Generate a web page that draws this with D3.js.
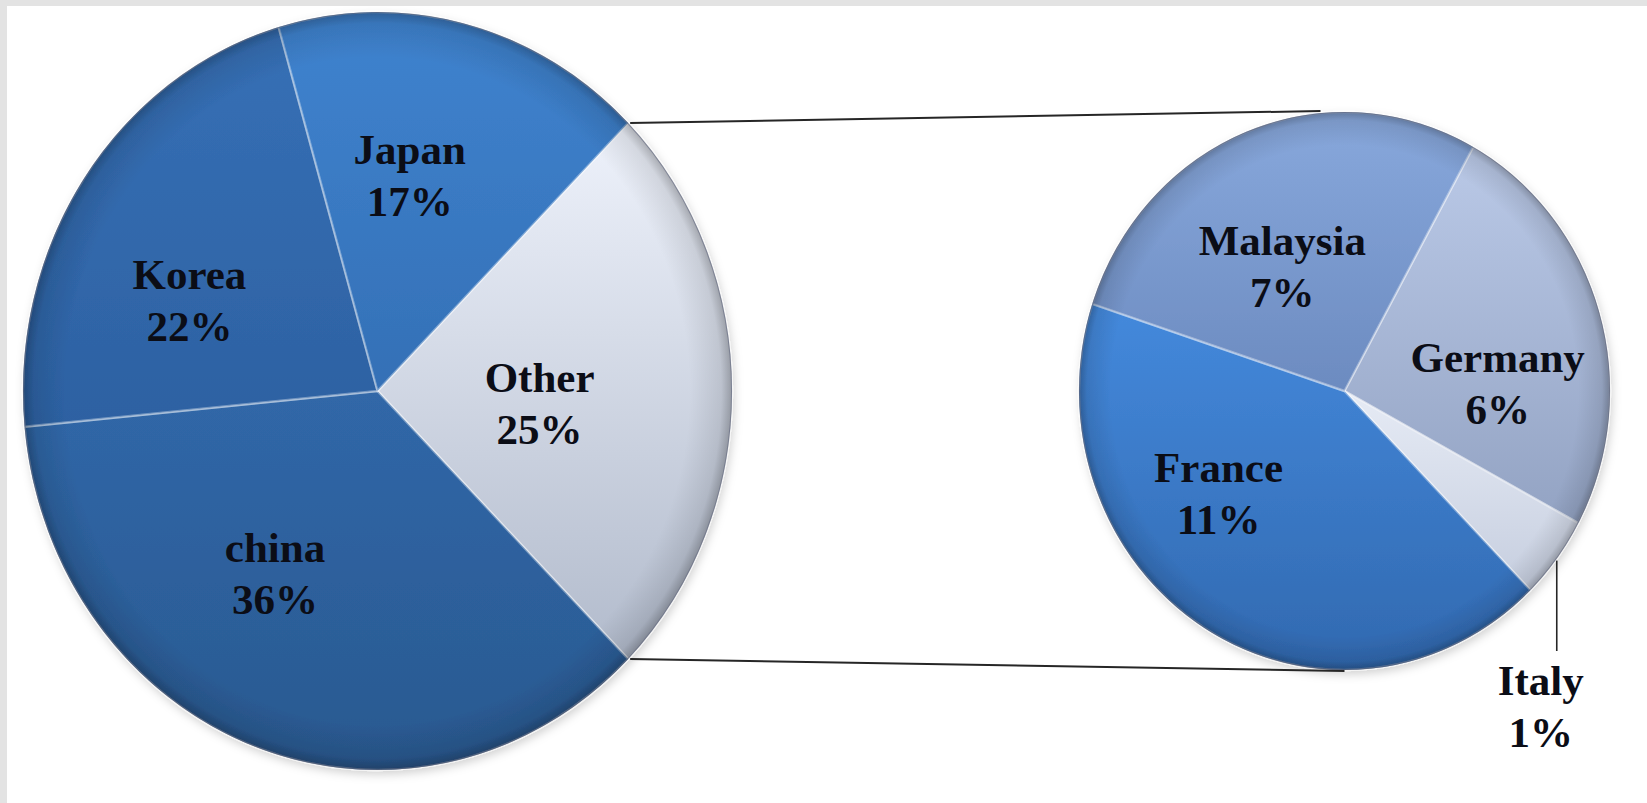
<!DOCTYPE html>
<html>
<head>
<meta charset="utf-8">
<script src="https://cdn.jsdelivr.net/npm/d3@7/dist/d3.min.js"></script>
<style>
  html, body { margin: 0; padding: 0; background: #ffffff; }
  svg { display: block; }
</style>
</head>
<body>
<script>
// ---------- data ----------
const mainCategories = ["Other", "china", "Korea", "Japan"];
const subCategories  = ["Germany", "Italy", "France", "Malaysia"];
const subValues      = [6.2, 1.2, 10.6, 7.0];          // % of total, shown in the second pie
const mainValues     = [d3.sum(subValues), 36, 22, 17]; // "Other" = sum of the second pie

// ---------- styles / layout ----------
const W = 1647, H = 803;
const mainColors = {
  Other:  ["#eef2fb", "#b2bbcc"],
  china:  ["#3067a8", "#2a5990"],
  Korea:  ["#3670b6", "#2d61a2"],
  Japan:  ["#3f83cf", "#3470b6"]
};
const subColors = {
  Germany:  ["#bac9e7", "#93a3c3"],
  Italy:    ["#e6ebf5", "#c6cedf"],
  France:   ["#4489dc", "#3169b0"],
  Malaysia: ["#88a8dc", "#6c8bc0"]
};
const leftPie  = { cx: 377.5, cy: 391, rx: 354.5, ry: 379, start: 45 };
const rightPie = { cx: 1344.5, cy: 391, rx: 265.5, ry: 279, start: 29 };
const labelRatio = 0.57;
const labelNudge = {
  Other: [-40, 12], china: [-34, -21], Korea: [-21, 31], Japan: [-18, -6],
  Germany: [8, 37], France: [-46, -33], Malaysia: [-7, 24]
};

const svg = d3.select("body").append("svg").attr("width", W).attr("height", H);
const defs = svg.append("defs");

// frame: gray bands on top and left
svg.append("rect").attr("x", 0).attr("y", 0).attr("width", W).attr("height", H).attr("fill", "#ffffff");
svg.append("rect").attr("x", 0).attr("y", 0).attr("width", W).attr("height", 6).attr("fill", "#e3e3e3");
svg.append("rect").attr("x", 0).attr("y", 0).attr("width", 7).attr("height", H).attr("fill", "#e3e3e3");

// gradients
function linGrad(id, c) {
  const g = defs.append("linearGradient").attr("id", id)
    .attr("x1", 0).attr("y1", 0).attr("x2", 0).attr("y2", 1);
  g.append("stop").attr("offset", "0%").attr("stop-color", c[0]);
  g.append("stop").attr("offset", "100%").attr("stop-color", c[1]);
}
Object.entries(mainColors).forEach(([k, c]) => linGrad("g-" + k, c));
Object.entries(subColors).forEach(([k, c]) => linGrad("g-" + k, c));

const edge = defs.append("radialGradient").attr("id", "edgeShade");
edge.append("stop").attr("offset", "0%").attr("stop-color", "#000").attr("stop-opacity", 0);
edge.append("stop").attr("offset", "88%").attr("stop-color", "#000").attr("stop-opacity", 0);
edge.append("stop").attr("offset", "97%").attr("stop-color", "#000").attr("stop-opacity", 0.10);
edge.append("stop").attr("offset", "100%").attr("stop-color", "#000").attr("stop-opacity", 0.28);

const shadow = defs.append("filter").attr("id", "shadow")
  .attr("x", "-10%").attr("y", "-10%").attr("width", "120%").attr("height", "120%");
shadow.append("feDropShadow").attr("dx", 2).attr("dy", 4).attr("stdDeviation", 5)
  .attr("flood-color", "#000").attr("flood-opacity", 0.18);

function drawPie(cfg, cats, vals) {
  const R = cfg.ry, sx = cfg.rx / cfg.ry;
  const a0 = cfg.start * Math.PI / 180;
  const pie = d3.pie().sort(null).value(d => d.v).startAngle(a0).endAngle(a0 + 2 * Math.PI);
  const arcs = pie(cats.map((c, i) => ({ name: c, v: vals[i] })));
  const arc = d3.arc().innerRadius(0).outerRadius(R);
  const g = svg.append("g")
    .attr("transform", `translate(${cfg.cx},${cfg.cy}) scale(${sx},1)`)
    .attr("filter", "url(#shadow)");
  g.selectAll("path.slice").data(arcs).join("path")
    .attr("class", "slice")
    .attr("d", arc)
    .attr("fill", d => `url(#g-${d.data.name})`)
    .attr("stroke", "rgba(255,255,255,0.35)")
    .attr("stroke-width", 2.5)
    .attr("stroke-linejoin", "round");
  g.append("circle").attr("r", R).attr("fill", "url(#edgeShade)").attr("pointer-events", "none");
  g.append("circle").attr("r", R - 0.5).attr("fill", "none")
    .attr("stroke", "rgba(70,80,110,0.45)").attr("stroke-width", 1.2);
  const toScreen = (p) => [cfg.cx + p[0] * sx, cfg.cy + p[1]];
  return { arcs, R, sx, toScreen };
}

const fmt = v => Math.round(v) + "%";

function addLabel(x, y, name, v) {
  const t = svg.append("text")
    .attr("font-family", "'Liberation Serif', 'Times New Roman', serif")
    .attr("font-weight", "bold")
    .attr("font-size", 43)
    .attr("fill", "#0b0d16")
    .attr("text-anchor", "middle");
  t.append("tspan").attr("x", x).attr("y", y - 26).attr("dominant-baseline", "central").text(name);
  t.append("tspan").attr("x", x).attr("y", y + 26).attr("dominant-baseline", "central").text(fmt(v));
}

// ---------- pies ----------
const L = drawPie(leftPie, mainCategories, mainValues);
const Rt = drawPie(rightPie, subCategories, subValues);

// connector lines from the "Other" slice to the second pie
const otherArc = L.arcs[0];
const edgePt = (cfg, R, sx, ang) => [cfg.cx + Math.sin(ang) * R * sx, cfg.cy - Math.cos(ang) * R];
const pTop = edgePt(leftPie, L.R, L.sx, otherArc.startAngle);
const pBot = edgePt(leftPie, L.R, L.sx, otherArc.endAngle);
const qTop = [rightPie.cx - 24, rightPie.cy - rightPie.ry - 1];
const qBot = [rightPie.cx, rightPie.cy + rightPie.ry + 1];
svg.append("g").selectAll("line").data([[pTop, qTop], [pBot, qBot]]).join("line")
  .attr("x1", d => d[0][0] + 2).attr("y1", d => d[0][1])
  .attr("x2", d => d[1][0]).attr("y2", d => d[1][1])
  .attr("stroke", "#262626").attr("stroke-width", 2);

// ---------- labels ----------
const labArcL = d3.arc().innerRadius(L.R * labelRatio).outerRadius(L.R * labelRatio);
L.arcs.forEach(d => {
  const c = labArcL.centroid(d);
  const p = L.toScreen(c);
  const n = labelNudge[d.data.name] || [0, 0];
  addLabel(p[0] + n[0], p[1] + n[1], d.data.name, d.data.v);
});

const labArcR = d3.arc().innerRadius(Rt.R * labelRatio).outerRadius(Rt.R * labelRatio);
Rt.arcs.forEach(d => {
  if (d.data.name === "Italy") {
    // outside label with a vertical leader line
    const mid = (d.startAngle + d.endAngle) / 2;
    const p0 = edgePt(rightPie, Rt.R, Rt.sx, mid);
    const yEnd = rightPie.cy + rightPie.ry - 19;
    svg.append("line").attr("x1", p0[0]).attr("y1", p0[1] + 2).attr("x2", p0[0]).attr("y2", yEnd)
      .attr("stroke", "#262626").attr("stroke-width", 1.6);
    addLabel(p0[0] - 16, yEnd + 55, d.data.name, d.data.v);
    return;
  }
  const c = labArcR.centroid(d);
  const p = Rt.toScreen(c);
  const n = labelNudge[d.data.name] || [0, 0];
  addLabel(p[0] + n[0], p[1] + n[1], d.data.name, d.data.v);
});
</script>
</body>
</html>
